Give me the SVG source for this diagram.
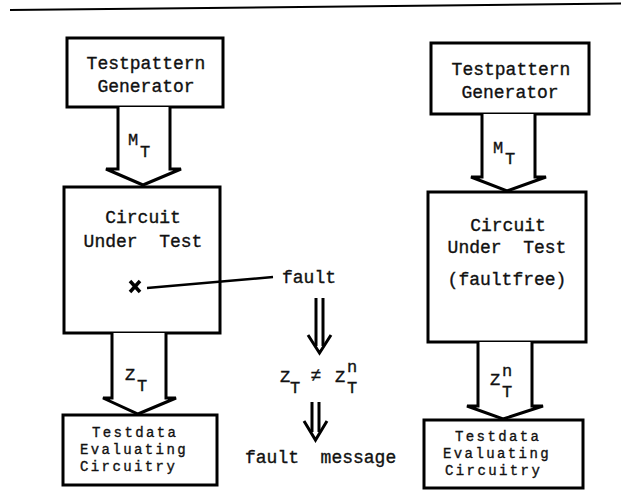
<svg xmlns="http://www.w3.org/2000/svg" width="621" height="490" viewBox="0 0 621 490">
<style>
.box{fill:#fff;stroke:#000;stroke-width:3}
.arr{fill:#fff;stroke:#000;stroke-width:3;stroke-linejoin:miter}
.ln{fill:none;stroke:#000;stroke-width:3}
.t{font-family:"Liberation Mono","Courier New",monospace;font-size:18px;fill:#111;stroke:#111;stroke-width:0.35;white-space:pre}
.m{text-anchor:middle}
.s{font-size:17px}
.e{font-size:14px;letter-spacing:2.4px}
</style>
<rect width="621" height="490" fill="#fff"/>
<line x1="10" y1="10" x2="621" y2="3.5" stroke="#000" stroke-width="2"/>

<g id="gen-left">
  <rect class="box" x="67" y="38" width="156" height="69"/>
  <text class="t m" x="146" y="69">Testpattern</text>
  <text class="t m" x="146" y="92">Generator</text>
</g>
<g id="cut-left">
  <rect class="box" x="64" y="187" width="156" height="146"/>
  <text class="t m" x="143" y="223">Circuit</text>
  <text class="t m" x="143" y="247">Under  Test</text>
  <g id="fault-mark">
    <line x1="130" y1="281" x2="140" y2="292" stroke="#000" stroke-width="3.5"/>
    <line x1="140" y1="281" x2="130" y2="292" stroke="#000" stroke-width="3.5"/>
  </g>
</g>
<g id="eval-left">
  <rect class="box" x="63" y="415" width="154" height="70"/>
  <text class="t e" x="92" y="437">Testdata</text>
  <text class="t e" x="80" y="454">Evaluating</text>
  <text class="t e" x="80" y="471">Circuitry</text>
</g>
<g id="gen-right">
  <rect class="box" x="431" y="43" width="158" height="71"/>
  <text class="t m" x="511" y="75">Testpattern</text>
  <text class="t m" x="510" y="98">Generator</text>
</g>
<g id="cut-right">
  <rect class="box" x="428" y="192" width="158" height="150"/>
  <text class="t m" x="508" y="231">Circuit</text>
  <text class="t m" x="507" y="253">Under  Test</text>
  <text class="t m" x="507" y="285">(faultfree)</text>
</g>
<g id="eval-right">
  <rect class="box" x="424" y="420" width="159" height="68"/>
  <text class="t e" x="455" y="441">Testdata</text>
  <text class="t e" x="443" y="458">Evaluating</text>
  <text class="t e" x="445" y="475">Circuitry</text>
</g>

<g id="connectors">
  <path class="arr" d="M118,107 V169 H106 L143,185 L181,169 H170 V107"/>
  <path class="arr" d="M112,333 V398 H103 L138,414 L176,398 H166 V333"/>
  <path class="arr" d="M482,114 V177 H471 L507,191 L546,177 H535 V114"/>
  <path class="arr" d="M478,342 V406 H467 L503,419 L543,406 H532 V342"/>
  <line x1="147" y1="288" x2="273" y2="277" stroke="#000" stroke-width="2.5"/>
  <g id="implies1">
    <line class="ln" x1="316" y1="298" x2="316" y2="346"/>
    <line class="ln" x1="323" y1="298" x2="323" y2="346"/>
    <polyline class="ln" points="308,335 319.5,353 331,335"/>
  </g>
  <g id="implies2">
    <line class="ln" x1="312" y1="402" x2="312" y2="432"/>
    <line class="ln" x1="319" y1="402" x2="319" y2="432"/>
    <polyline class="ln" points="304,421 315.5,440 327,421"/>
  </g>
</g>

<g id="mt-left">
  <text class="t s" x="128" y="145">M</text>
  <text class="t s" x="140" y="157">T</text>
</g>
<g id="fault-label">
  <text class="t" x="282" y="283">fault</text>
</g>
<g id="zt-left">
  <text class="t s" x="125" y="380">Z</text>
  <text class="t s" x="137" y="391">T</text>
</g>
<g id="compare">
  <text class="t s" x="280" y="382">Z</text>
  <text class="t s" x="290" y="393">T</text>
  <text class="t m" x="316" y="381">≠</text>
  <text class="t s" x="335" y="382">Z</text>
  <text class="t s" x="347" y="372">n</text>
  <text class="t s" x="347" y="393">T</text>
</g>
<g id="fault-message">
  <text class="t" x="245" y="463">fault  message</text>
</g>
<g id="mt-right">
  <text class="t s" x="493" y="153">M</text>
  <text class="t s" x="505" y="164">T</text>
</g>
<g id="zt-right">
  <text class="t s" x="490" y="385">Z</text>
  <text class="t s" x="502" y="376">n</text>
  <text class="t s" x="502" y="397">T</text>
</g>
</svg>
